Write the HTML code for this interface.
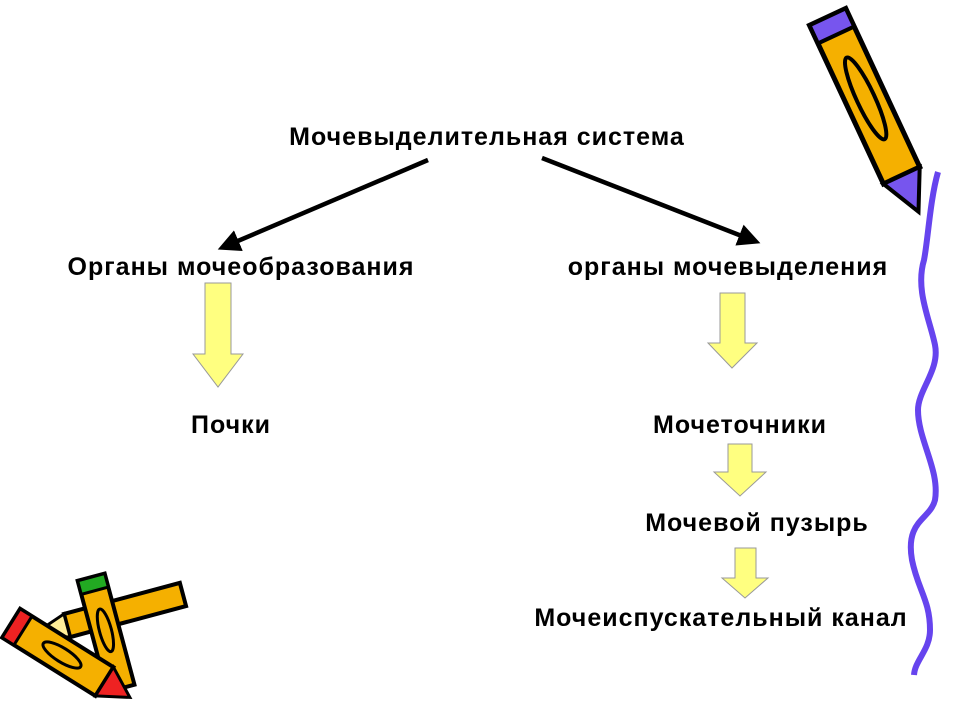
<!DOCTYPE html>
<html><head><meta charset="utf-8"><style>
body{margin:0;width:960px;height:720px;background:#fff;overflow:hidden;position:relative;font-family:"Liberation Sans",Arial,sans-serif}
.t{position:absolute;font-weight:bold;font-size:25px;letter-spacing:1px;color:#000;white-space:nowrap;transform:translateX(-50%)}
svg{position:absolute;left:0;top:0}
</style></head><body>
<svg width="960" height="720">
<defs><marker id="ah" markerWidth="5" markerHeight="5" refX="3" refY="2.5" orient="auto" markerUnits="strokeWidth"><path d="M0,0 L5,2.5 L0,5 z" fill="#000"/></marker></defs>
<line x1="428" y1="160" x2="226" y2="246" stroke="#000" stroke-width="4.5" marker-end="url(#ah)"/>
<line x1="542" y1="158" x2="752" y2="240" stroke="#000" stroke-width="4.5" marker-end="url(#ah)"/>
<g fill="#ffff80" stroke="#999" stroke-width="1">
<path d="M205,283 H231 V354 H243 L218,387 L193,354 H205 Z"/>
<path d="M720,293 H745 V343 H757 L732,368 L708,343 H720 Z"/>
<path d="M728,444 H752 V472 H766 L740,496 L714,472 H728 Z"/>
<path d="M735,548 H756 V578 H768 L745,598 L722,578 H735 Z"/>
</g>
<path d="M938,172 C930,200 928,240 924,260 C915,290 930,320 935,345 C940,370 918,390 918,410 C918,440 940,470 935,500 C930,520 905,520 912,560 C918,590 930,600 930,630 C930,650 915,660 914,675" fill="none" stroke="#6644ee" stroke-width="6"/>
<g transform="translate(872,112) rotate(-25)">
<rect x="-20" y="-105" width="40" height="175" fill="#f5b000" stroke="#000" stroke-width="5"/>
<rect x="-20" y="-105" width="40" height="20" fill="#7755ee" stroke="#000" stroke-width="4"/>
<ellipse cx="0" cy="-15" rx="9" ry="45" fill="none" stroke="#000" stroke-width="4"/>
<path d="M-20,70 L0,110 L20,70 Z" fill="#7755ee" stroke="#000" stroke-width="4"/>
</g>
<g transform="translate(125,610) rotate(-15)">
<rect x="-60" y="-12" width="120" height="24" fill="#f5b000" stroke="#000" stroke-width="4"/>
<path d="M-60,-12 L-95,0 L-60,12 Z" fill="#ffee99" stroke="#000" stroke-width="3"/>
</g>
<g transform="translate(108,640) rotate(-15)">
<rect x="-14" y="-65" width="28" height="115" fill="#f5b000" stroke="#000" stroke-width="4"/>
<rect x="-14" y="-65" width="28" height="14" fill="#22aa22" stroke="#000" stroke-width="3"/>
<ellipse cx="0" cy="-10" rx="6" ry="22" fill="none" stroke="#000" stroke-width="3"/>
</g>
<g transform="translate(62,655) rotate(32)">
<rect x="-60" y="-17" width="110" height="34" fill="#f5b000" stroke="#000" stroke-width="4"/>
<rect x="-60" y="-17" width="14" height="34" fill="#ee2222" stroke="#000" stroke-width="3"/>
<ellipse cx="0" cy="0" rx="22" ry="7" fill="none" stroke="#000" stroke-width="3"/>
<path d="M50,-17 L80,0 L50,17 Z" fill="#ee2222" stroke="#000" stroke-width="3"/>
</g>
</svg>
<div class="t" style="left:487px;top:123px">Мочевыделительная система</div>
<div class="t" style="left:241px;top:253px">Органы мочеобразования</div>
<div class="t" style="left:728px;top:253px">органы мочевыделения</div>
<div class="t" style="left:231px;top:411px">Почки</div>
<div class="t" style="left:740px;top:411px">Мочеточники</div>
<div class="t" style="left:757px;top:509px">Мочевой пузырь</div>
<div class="t" style="left:721px;top:604px">Мочеиспускательный канал</div>
</body></html>
